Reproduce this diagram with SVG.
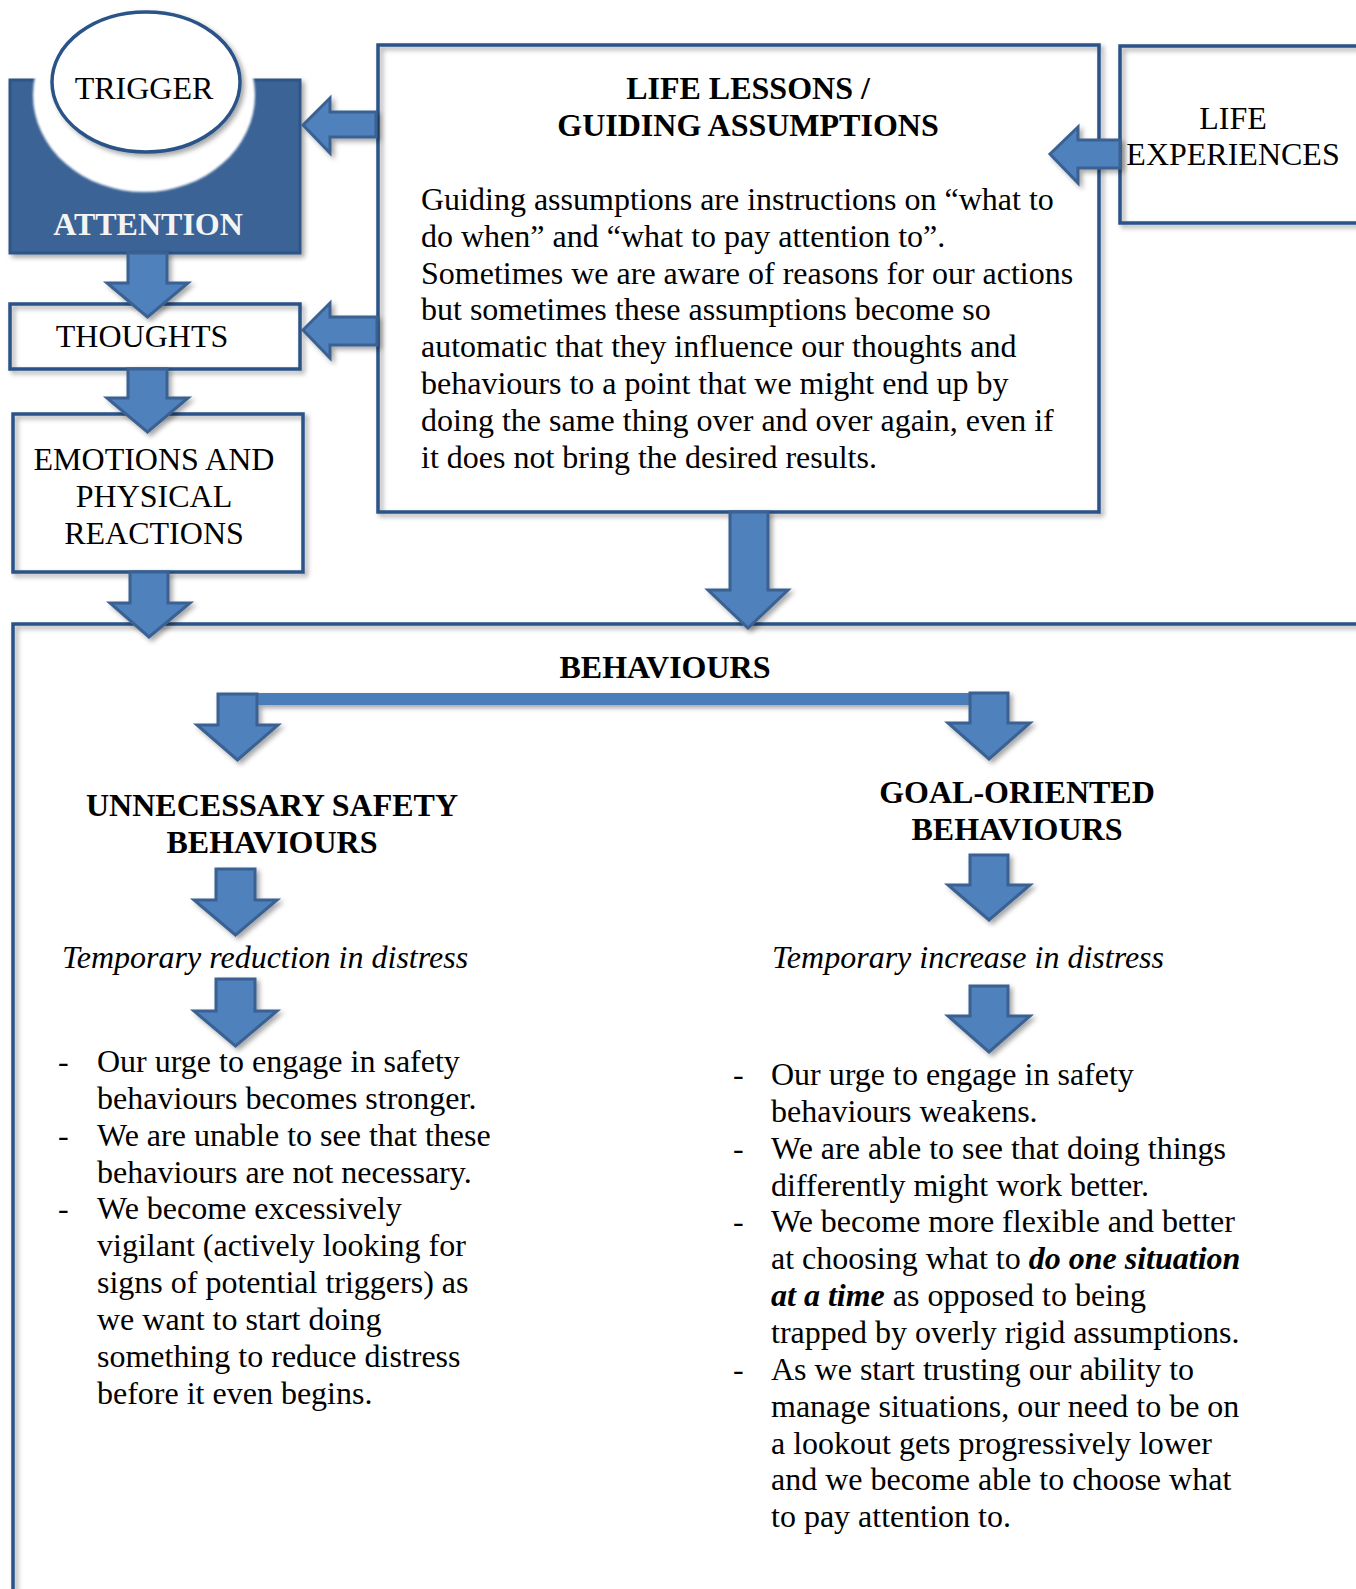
<svg xmlns="http://www.w3.org/2000/svg" width="1356" height="1589" viewBox="0 0 1356 1589">
<style>
text{font-family:"Liberation Serif","Times New Roman",serif;font-size:32px;fill:#000}
.b{font-weight:bold}
.i{font-style:italic}
.c{text-anchor:middle}
.box{fill:none;stroke:#2A5388;stroke-width:3.5}
.arr{fill:#4F81BD;stroke:#3A6192;stroke-width:3;stroke-linejoin:miter}
</style>
<defs>
<filter id="sh" x="-10%" y="-10%" width="130%" height="130%">
<feDropShadow dx="3" dy="3" stdDeviation="2.5" flood-color="#000" flood-opacity="0.35"/>
</filter>
<filter id="glow" x="-20%" y="-20%" width="140%" height="140%">
<feGaussianBlur stdDeviation="0.8"/>
</filter>
</defs>
<rect width="1356" height="1589" fill="#fff"/>

<g id="attention">
<rect x="10" y="80" width="290" height="173" fill="#3A6496" stroke="#2F5486" stroke-width="3" filter="url(#sh)"/>
<ellipse cx="144" cy="95" rx="111" ry="97" fill="#fff" filter="url(#glow)"/>
<text class="b c" x="148" y="235" style="fill:#F4F4F4">ATTENTION</text>
</g>
<g id="trigger">
<ellipse cx="146" cy="82" rx="94" ry="70" fill="#fff" stroke="#2A5388" stroke-width="3.5" filter="url(#sh)"/>
<text class="c" x="144" y="99">TRIGGER</text>
</g>
<g id="thoughts">
<rect class="box" x="10" y="304" width="290" height="65" filter="url(#sh)"/>
<text class="c" x="142" y="347">THOUGHTS</text>
</g>
<g id="emotions">
<rect class="box" x="13" y="414" width="290" height="158" filter="url(#sh)"/>
<text class="c" x="154" y="470">EMOTIONS AND</text>
<text class="c" x="154" y="507">PHYSICAL</text>
<text class="c" x="154" y="544">REACTIONS</text>
</g>
<g id="life-lessons">
<rect class="box" x="378" y="45" width="721" height="467" filter="url(#sh)"/>
<text class="b c" x="748" y="99">LIFE LESSONS /</text>
<text class="b c" x="748" y="136">GUIDING ASSUMPTIONS</text>
<text x="421" y="210">Guiding assumptions are instructions on “what to</text>
<text x="421" y="246.8">do when” and “what to pay attention to”.</text>
<text x="421" y="283.6">Sometimes we are aware of reasons for our actions</text>
<text x="421" y="320.4">but sometimes these assumptions become so</text>
<text x="421" y="357.2">automatic that they influence our thoughts and</text>
<text x="421" y="394">behaviours to a point that we might end up by</text>
<text x="421" y="430.8">doing the same thing over and over again, even if</text>
<text x="421" y="467.6">it does not bring the desired results.</text>
</g>
<g id="life-experiences">
<rect class="box" x="1120" y="46" width="260" height="177" filter="url(#sh)"/>
<text class="c" x="1233" y="129">LIFE</text>
<text class="c" x="1233" y="165">EXPERIENCES</text>
</g>
<g id="behaviours">
<rect class="box" x="13" y="624" width="1400" height="1100" filter="url(#sh)"/>
<text class="b c" x="665" y="678">BEHAVIOURS</text>
</g>
<g id="unnecessary">
<text class="b c" x="272" y="816">UNNECESSARY SAFETY</text>
<text class="b c" x="272" y="853">BEHAVIOURS</text>
<text class="i c" x="265" y="968">Temporary reduction in distress</text>
<text x="58" y="1072">-</text><text x="97" y="1072">Our urge to engage in safety</text>
<text x="97" y="1108.85">behaviours becomes stronger.</text>
<text x="58" y="1145.7">-</text><text x="97" y="1145.7">We are unable to see that these</text>
<text x="97" y="1182.55">behaviours are not necessary.</text>
<text x="58" y="1219.4">-</text><text x="97" y="1219.4">We become excessively</text>
<text x="97" y="1256.25">vigilant (actively looking for</text>
<text x="97" y="1293.1">signs of potential triggers) as</text>
<text x="97" y="1329.95">we want to start doing</text>
<text x="97" y="1366.8">something to reduce distress</text>
<text x="97" y="1403.65">before it even begins.</text>
</g>
<g id="goal-oriented">
<text class="b c" x="1017" y="803">GOAL-ORIENTED</text>
<text class="b c" x="1017" y="840">BEHAVIOURS</text>
<text class="i c" x="968" y="968">Temporary increase in distress</text>
<text x="733" y="1085">-</text><text x="771" y="1085">Our urge to engage in safety</text>
<text x="771" y="1121.85">behaviours weakens.</text>
<text x="733" y="1158.7">-</text><text x="771" y="1158.7">We are able to see that doing things</text>
<text x="771" y="1195.55">differently might work better.</text>
<text x="733" y="1232.4">-</text><text x="771" y="1232.4">We become more flexible and better</text>
<text x="771" y="1269.25">at choosing what to <tspan class="b i">do one situation</tspan></text>
<text x="771" y="1306.1"><tspan class="b i">at a time</tspan> as opposed to being</text>
<text x="771" y="1342.95">trapped by overly rigid assumptions.</text>
<text x="733" y="1379.8">-</text><text x="771" y="1379.8">As we start trusting our ability to</text>
<text x="771" y="1416.65">manage situations, our need to be on</text>
<text x="771" y="1453.5">a lookout gets progressively lower</text>
<text x="771" y="1490.35">and we become able to choose what</text>
<text x="771" y="1527.2">to pay attention to.</text>
</g>

<g id="connectors" filter="url(#sh)">
<rect x="225" y="693" width="750" height="12" fill="#4A7EBB"/>
<polygon class="arr" points="303,125 330,98 330,112 376,112 376,137 330,137 330,153"/>
<polygon class="arr" points="303,330 330,303 330,317 377,317 377,345 330,345 330,358"/>
<polygon class="arr" points="1050,154 1078,127 1078,140 1120,140 1120,168 1078,168 1078,183"/>
<polygon class="arr" points="128,253 167,253 167,283 188,283 147.5,317 107,283 128,283"/>
<polygon class="arr" points="128,369 167,369 167,398 188,398 147.5,432 107,398 128,398"/>
<polygon class="arr" points="130,572 168,572 168,603 190,603 149,637 110,603 130,603"/>
<polygon class="arr" points="730,512 768,512 768,590 788,590 748,628 708,590 730,590"/>
<polygon class="arr" points="218,694 257,694 257,725 278,725 237.5,760 197,725 218,725"/>
<polygon class="arr" points="970,693 1008,693 1008,723 1030,723 989,759 948,723 970,723"/>
<polygon class="arr" points="216,869 255,869 255,900 277,900 235.5,935 194,900 216,900"/>
<polygon class="arr" points="216,979 255,979 255,1011 277,1011 235.5,1046 194,1011 216,1011"/>
<polygon class="arr" points="970,855 1008,855 1008,885 1030,885 989,920 948,885 970,885"/>
<polygon class="arr" points="970,986 1008,986 1008,1016 1030,1016 989,1052 948,1016 970,1016"/>
</g>
</svg>
